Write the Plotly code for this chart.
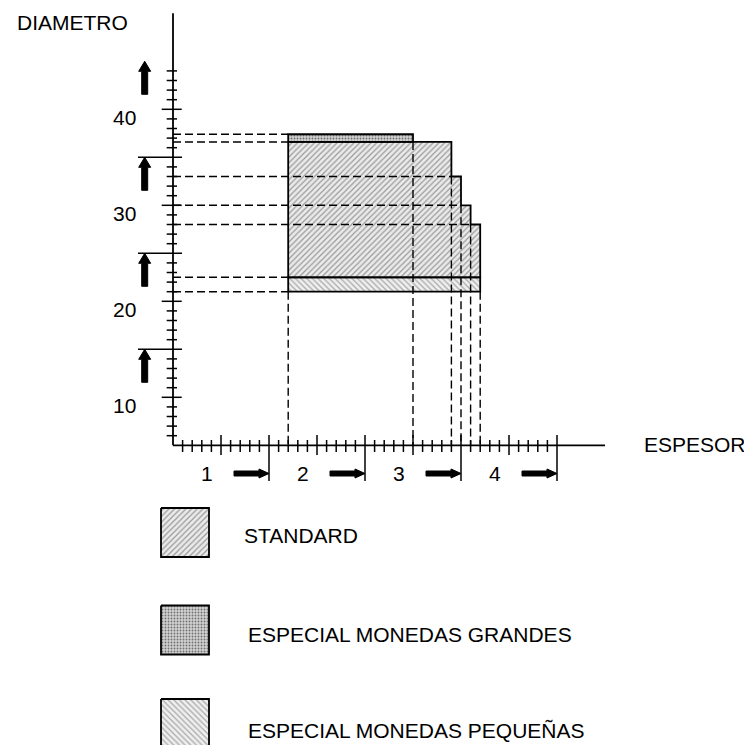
import plotly.graph_objects as go

# ---------------- data ----------------
espesor_ticks = [1, 2, 3, 4]
espesor_labels = ["1", "2", "3", "4"]
diametro_ticks = [10, 20, 30, 40]
diametro_labels = ["10", "20", "30", "40"]
diametro_arrow_lines = [15, 25, 35, 45]

# STANDARD region (staircase)
std_espesor_min = 1.2
std_espesor_max = [2.9, 3.0, 3.1, 3.2]
std_diam_top = [36.6, 33.0, 30.0, 28.0]
std_diam_min = 22.5

# ESPECIAL MONEDAS GRANDES
grandes_espesor = [1.2, 2.5]
grandes_diam = [36.6, 37.4]

# ESPECIAL MONEDAS PEQUEÑAS
pequenas_espesor = [1.2, 3.2]
pequenas_diam = [21.0, 22.5]

legend_labels = ["STANDARD", "ESPECIAL MONEDAS GRANDES", "ESPECIAL MONEDAS PEQUEÑAS"]

x_axis_min, x_axis_max = 0.0, 4.5
y_axis_min, y_axis_max = 5.0, 50.0

# ---------------- layout helpers (screen pixels) ----------------
PAGE_OFF = 8          # default body margin of the html page
W, H = 752 - PAGE_OFF, 745 - PAGE_OFF
X0_PX, PX_PER_X = 173.0, 96.0
Y5_PX, PX_PER_Y = 445.3, 9.6


def X(px):
    return (px - X0_PX) / PX_PER_X


def Y(py):
    return y_axis_min + (Y5_PX - py) / PX_PER_Y


def dx(p):
    return p / PX_PER_X


def dy(p):
    return p / PX_PER_Y


FONT = "Liberation Sans, Arial, sans-serif"
FS = 21
BLACK = "#000000"

pat_std = dict(shape="/", fgcolor="#999999", bgcolor="#ebebeb", size=4, solidity=0.3, fillmode="replace")
pat_grandes = dict(shape=".", fgcolor="#707070", bgcolor="#d2d2d2", size=3, solidity=0.3, fillmode="replace")
pat_peq = dict(shape="\\", fgcolor="#a8a8a8", bgcolor="#efefef", size=4, solidity=0.3, fillmode="replace")

fig = go.Figure()

# ---------------- regions ----------------
sx = [std_espesor_min]
sy = [std_diam_top[0]]
for i, xm in enumerate(std_espesor_max):
    nxt = std_diam_top[i + 1] if i + 1 < len(std_diam_top) else std_diam_min
    sx += [xm, xm]
    sy += [std_diam_top[i], nxt]
sx += [std_espesor_min, std_espesor_min]
sy += [std_diam_min, std_diam_top[0]]

gx = [grandes_espesor[0], grandes_espesor[1], grandes_espesor[1], grandes_espesor[0], grandes_espesor[0]]
gy = [grandes_diam[0], grandes_diam[0], grandes_diam[1], grandes_diam[1], grandes_diam[0]]
px_ = [pequenas_espesor[0], pequenas_espesor[1], pequenas_espesor[1], pequenas_espesor[0], pequenas_espesor[0]]
py_ = [pequenas_diam[0], pequenas_diam[0], pequenas_diam[1], pequenas_diam[1], pequenas_diam[0]]

for xs, ys, pat in [(sx, sy, pat_std), (gx, gy, pat_grandes), (px_, py_, pat_peq)]:
    fig.add_trace(go.Scatter(x=xs, y=ys, mode="lines", fill="toself",
                             fillcolor=pat["bgcolor"], fillpattern=pat,
                             line=dict(color=BLACK, width=0), hoverinfo="skip"))

# ---------------- dashed guides ----------------
hx, hy = [], []
for d in [grandes_diam[1], grandes_diam[0]]:
    hx += [x_axis_min, grandes_espesor[0], None]
    hy += [d, d, None]
for i in range(1, len(std_diam_top)):
    hx += [x_axis_min, std_espesor_max[i - 1], None]
    hy += [std_diam_top[i], std_diam_top[i], None]
for d in [pequenas_diam[1], pequenas_diam[0]]:
    hx += [x_axis_min, pequenas_espesor[0], None]
    hy += [d, d, None]
verts = [(pequenas_espesor[0], pequenas_diam[0]), (grandes_espesor[1], grandes_diam[0])]
for i in range(len(std_espesor_max) - 1):
    verts.append((std_espesor_max[i], std_diam_top[i + 1]))
verts.append((pequenas_espesor[1], pequenas_diam[0]))
for vx, vy in verts:
    hx += [vx, vx, None]
    hy += [vy, y_axis_min, None]
fig.add_trace(go.Scatter(x=hx, y=hy, mode="lines",
                         line=dict(color=BLACK, width=1.4, dash="8px,4px"), hoverinfo="skip"))

# outlines
for xs, ys in [(sx, sy), (gx, gy), (px_, py_)]:
    fig.add_trace(go.Scatter(x=xs, y=ys, mode="lines",
                             line=dict(color=BLACK, width=1.8), hoverinfo="skip"))

# ---------------- axes ----------------
ax_x = [x_axis_min, x_axis_min, None, x_axis_min, x_axis_max]
ax_y = [y_axis_max, y_axis_min, None, y_axis_min, y_axis_min]
fig.add_trace(go.Scatter(x=ax_x, y=ax_y, mode="lines",
                         line=dict(color=BLACK, width=1.8), hoverinfo="skip"))

tx, ty = [], []
for k in range(1, 41):
    v = k / 10
    if k % 10 == 0:
        top, bot = Y(435), Y(481)
    elif k % 5 == 0:
        top, bot = Y(435), Y(455)
    else:
        top, bot = Y(440), Y(452)
    tx += [v, v, None]
    ty += [top, bot, None]
for v in range(6, 45):
    if v in diametro_arrow_lines:
        l, r = X(138), X(182)
    elif v % 10 == 0:
        l, r = X(161.7), X(181.7)
    else:
        l, r = X(166.7), X(177)
    tx += [l, r, None]
    ty += [v, v, None]
fig.add_trace(go.Scatter(x=tx, y=ty, mode="lines",
                         line=dict(color=BLACK, width=1.5), hoverinfo="skip"))

# ---------------- arrows ----------------
ar_x, ar_y = [], []
xc = X(144.7)
for t in diametro_arrow_lines:
    pts = [(0, 0), (6, -10), (3, -10), (3, -33), (-3, -33), (-3, -10), (-6, -10), (0, 0)]
    ar_x += [xc + dx(p[0]) for p in pts] + [None]
    ar_y += [t + dy(p[1]) for p in pts] + [None]
yc = Y(473.5)
for t in espesor_ticks:
    pts = [(0, 0), (-10, 4.5), (-10, 2.5), (-35, 2.5), (-35, -2.5), (-10, -2.5), (-10, -4.5), (0, 0)]
    ar_x += [t + dx(p[0]) for p in pts] + [None]
    ar_y += [yc + dy(p[1]) for p in pts] + [None]
fig.add_trace(go.Scatter(x=ar_x, y=ar_y, mode="lines", fill="toself", fillcolor=BLACK,
                         line=dict(color=BLACK, width=1), hoverinfo="skip"))

# ---------------- legend swatches ----------------
box_tops = [508, 605.5, 699]
pats = [pat_std, pat_grandes, pat_peq]
for top, pat in zip(box_tops, pats):
    bx = [X(161), X(209), X(209), X(161), X(161)]
    by = [Y(top), Y(top), Y(top + 49), Y(top + 49), Y(top)]
    fig.add_trace(go.Scatter(x=bx, y=by, mode="lines", fill="toself",
                             fillcolor=pat["bgcolor"], fillpattern=pat,
                             line=dict(color=BLACK, width=1.8), hoverinfo="skip"))

# ---------------- text ----------------
ann = []
for v, lab in zip(diametro_ticks, diametro_labels):
    ann.append(dict(x=X(124), y=v - dy(8), text=lab, xanchor="center", yanchor="middle"))
for v, lab in zip(espesor_ticks, espesor_labels):
    ann.append(dict(x=v - 0.65, y=Y(473), text=lab, xanchor="center", yanchor="middle"))
ann.append(dict(x=X(15), y=Y(22), text="DIAMETRO", xanchor="left", yanchor="middle"))
ann.append(dict(x=X(642), y=Y(444), text="ESPESOR", xanchor="left", yanchor="middle"))
leg_pos = [(242, 535.5), (246, 634), (246, 730)]
for (lx, ly), lab in zip(leg_pos, legend_labels):
    ann.append(dict(x=X(lx), y=Y(ly), text=lab, xanchor="left", yanchor="middle"))
for a in ann:
    a.update(xref="x", yref="y", showarrow=False, font=dict(family=FONT, size=FS, color=BLACK))

fig.update_layout(
    width=W, height=H,
    margin=dict(l=0, r=0, t=0, b=0),
    paper_bgcolor="white", plot_bgcolor="white",
    showlegend=False,
    annotations=ann,
    xaxis=dict(range=[X(PAGE_OFF), X(PAGE_OFF + W)], visible=False, fixedrange=True),
    yaxis=dict(range=[Y(PAGE_OFF + H), Y(PAGE_OFF)], visible=False, fixedrange=True),
)

fig.write_html("out.html")
